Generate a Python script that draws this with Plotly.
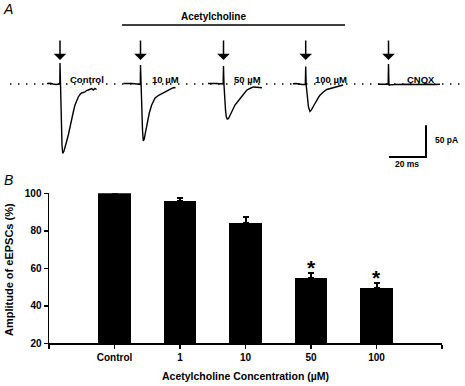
import plotly.graph_objects as go

# ---------------- Panel A data: eEPSC sweeps (time in ms from stimulus, current in pA) ----
sweep_labels = ["Control", "10 µM", "50 µM", "100 µM", "CNQX"]

control_t = [-7.0, -5.4, -3.8, -2.2, -0.1, 0, 0.27, 1.08, 1.46, 2.16, 2.7, 3.5, 4.5, 5.4, 6.3, 7.3, 8.1,
             9.0, 9.9, 10.8, 11.7, 13.5, 14.3, 15.3, 16.2, 17.1, 18.0, 18.9, 19.8]
control_i = [0.8, 1.1, 0, -0.8, 0, 33.2, 0, -96.4, -109.5, -105.8, -101.1, -91.6, -80.6, -66.4, -53.7,
             -42.7, -33.2, -25.3, -20.5, -16.6, -14.2, -12.6, -10.3, -9.5, -7.9, -7.1, -9.5, -7.1, -8.7]

ach10_t = [-9.2, -7.3, -5.1, -3.0, -1.6, -0.5, -0.1, 0, 0.27, 1.08, 1.5, 2.05, 2.4, 3.35, 4.05, 4.75,
           6.05, 7.0, 7.8, 9.6, 11.5, 13.2, 15.0, 16.9, 18.1, 18.9]
ach10_i = [0.8, 1.1, 0.8, 0.3, -0.8, -1.6, -0.8, 30, -1.6, -72.7, -90, -86.9, -80.6, -66.4, -55.3, -45.8,
           -33.2, -26.9, -22.6, -18.2, -15, -12.2, -9.5, -6.8, -5.5, -6.0]

ach50_t = [-8.4, -6.2, -4.1, -1.9, -0.2, 0, 0.27, 1.08, 1.5, 2.05, 2.7, 3.5, 4.4, 5.3, 6.2, 7.1, 8.1,
           8.9, 10.7, 12.5, 14.3, 16.1, 17.9, 19.7, 20.8]
ach50_i = [0.8, 1.1, 0.8, 0.3, 0, 28.4, -1.6, -41, -52, -55.3, -54.5, -49.8, -43.4, -37.9, -33.2, -30,
           -26.1, -22.6, -15, -9.8, -7.1, -4.7, -5.2, -5.8, -6.0]

ach100_t = [-6.9, -5.2, -3.6, -2.0, -0.2, 0, 0.27, 0.97, 1.5, 2.3, 3.1, 4.1, 5.0, 5.9, 6.9, 7.7, 9.5,
            11.4, 13.1, 14.9, 16.8, 18.5, 20.2]
ach100_i = [0.3, 0.8, 0, -0.8, -0.5, 27.6, -1.6, -25.3, -36.3, -43.4, -41, -35.5, -30, -25.3, -21,
            -17.9, -12.6, -8.7, -7.1, -5.5, -4.3, -2.8, -1.6]

cnqx_t = [-5.7, -3.5, -1.4, -0.2, 0, 0.27, 0.8, 3.5, 6.2, 8.9, 11.6, 14.3, 17.0, 19.7, 22.4, 25.1, 27.8]
cnqx_i = [-0.5, 0, -0.5, -0.5, 31.6, -2.4, -1.3, -0.8, -0.5, -0.9, -0.5, -0.8, -0.5, -0.8, -0.5, -0.8, -0.5]

scale_ms = 20
scale_pa = 50

# ---------------- Panel B data ----------------
categories = ["Control", "1", "10", "50", "100"]
amplitude = [100, 95.9, 84.0, 55.0, 49.3]
sem = [0, 1.8, 3.2, 2.3, 2.7]
significant = [False, False, False, True, True]

# ---------------- layout helpers ----------------
W, H = 465, 386
PX_PER_MS = 1.85
PX_PER_PA = 0.633
BASE_PX = 84          # baseline pixel row in panel A
PANEL_A_BOTTOM = 170  # px


def py(p):  # pixel row -> paper y
    return 1 - p / H


sweeps = [(control_t, control_i), (ach10_t, ach10_i), (ach50_t, ach50_i),
          (ach100_t, ach100_i), (cnqx_t, cnqx_i)]
stim_px = [60, 140.5, 223.5, 305.7, 388.5]
sweep_offsets = [p / PX_PER_MS for p in stim_px]
label_left_px = [68, 150, 232, 313, 405]

FONT = "Liberation Sans, Arial, Helvetica, sans-serif"

fig = go.Figure()

for (t, i), off in zip(sweeps, sweep_offsets):
    fig.add_trace(go.Scatter(x=[v + off for v in t], y=i, mode="lines",
                             line=dict(color="black", width=1.4),
                             xaxis="x2", yaxis="y2", showlegend=False, hoverinfo="skip"))

# scale bar (20 ms, 50 pA)
corner_x = 426 / PX_PER_MS
corner_y = (BASE_PX - 157) / PX_PER_PA
fig.add_trace(go.Scatter(x=[corner_x - scale_ms, corner_x, corner_x],
                         y=[corner_y, corner_y, corner_y + scale_pa],
                         mode="lines", line=dict(color="black", width=2),
                         xaxis="x2", yaxis="y2", showlegend=False, hoverinfo="skip"))

# bars
fig.add_trace(go.Bar(x=list(range(len(categories))), y=amplitude, width=0.5,
                     marker=dict(color="black", line=dict(width=0)),
                     error_y=dict(type="data", symmetric=False, array=sem,
                                  arrayminus=[0] * len(sem), color="black",
                                  thickness=2, width=3),
                     showlegend=False, hoverinfo="skip"))

annotations = []
shapes = []

# arrows at stimulus times
arrow_tip_pa = (BASE_PX - 60) / PX_PER_PA
for off in sweep_offsets:
    annotations.append(dict(x=off, y=arrow_tip_pa, xref="x2", yref="y2", ax=0, ay=-21,
                            showarrow=True, arrowhead=1, arrowsize=1.4, arrowwidth=1.5,
                            arrowcolor="black", text=""))

# sweep labels
for lab, lx in zip(sweep_labels, label_left_px):
    annotations.append(dict(x=lx / W, y=py(79), xref="paper", yref="paper", text=lab,
                            showarrow=False, xanchor="left", yanchor="middle",
                            font=dict(family=FONT, size=9.5, color="black", weight="bold")))

annotations += [
    dict(x=213 / W, y=py(16), xref="paper", yref="paper", text="Acetylcholine", showarrow=False,
         xanchor="center", yanchor="middle",
         font=dict(family=FONT, size=10, color="black", weight="bold")),
    dict(x=433 / W, y=py(140), xref="paper", yref="paper", text="50 pA", showarrow=False,
         xanchor="left", yanchor="middle",
         font=dict(family=FONT, size=8.5, color="black", weight="bold")),
    dict(x=407 / W, y=py(164.5), xref="paper", yref="paper", text="20 ms", showarrow=False,
         xanchor="center", yanchor="middle",
         font=dict(family=FONT, size=8.5, color="black", weight="bold")),
    dict(x=8 / W, y=py(9), xref="paper", yref="paper", text="<i>A</i>", showarrow=False,
         xanchor="center", yanchor="middle", font=dict(family=FONT, size=14, color="black")),
    dict(x=8 / W, y=py(180), xref="paper", yref="paper", text="<i>B</i>", showarrow=False,
         xanchor="center", yanchor="middle", font=dict(family=FONT, size=14, color="black")),
    dict(x=9 / W, y=py(270), xref="paper", yref="paper", text="Amplitude of eEPSCs (%)",
         showarrow=False, textangle=-90, xanchor="center", yanchor="middle",
         font=dict(family=FONT, size=11, color="black", weight="bold")),
]

# significance asterisks
for k, sig in enumerate(significant):
    if sig:
        annotations.append(dict(x=k, y=amplitude[k] + sem[k], xref="x", yref="y", text="*",
                                showarrow=False, xanchor="center", yanchor="middle", yshift=6,
                                font=dict(family=FONT, size=21, color="black", weight="bold")))

# dotted baseline and acetylcholine bar
shapes.append(dict(type="line", xref="paper", yref="y2", x0=10 / W, x1=463 / W, y0=0, y1=0,
                   line=dict(color="black", width=1.5, dash="1.5px,6.5px"), layer="below"))
shapes.append(dict(type="line", xref="paper", yref="paper", x0=122 / W, x1=345 / W,
                   y0=py(25), y1=py(25), line=dict(color="black", width=1.7)))

tickfont = dict(family=FONT, size=10, color="black", weight="bold")

fig.update_layout(
    width=W, height=H,
    margin=dict(l=0, r=0, t=0, b=0),
    paper_bgcolor="white", plot_bgcolor="white",
    showlegend=False,
    annotations=annotations, shapes=shapes,
    xaxis=dict(domain=[49 / W, 442 / W], range=[-1, 5],
               tickvals=list(range(-1, len(categories) + 1)),
               ticktext=[""] + categories + [""],
               ticks="outside", ticklen=4, tickwidth=1.5, tickcolor="black",
               showline=True, linewidth=1.5, linecolor="black",
               showgrid=False, zeroline=False, tickfont=tickfont, automargin=False,
               title=dict(text="Acetylcholine Concentration (µM)", standoff=11,
                          font=dict(family=FONT, size=10.5, color="black", weight="bold")),
               anchor="y"),
    yaxis=dict(domain=[py(343.3), py(193.3)], range=[20, 100],
               tickvals=[20, 40, 60, 80, 100],
               ticks="outside", ticklen=4, tickwidth=1.5, tickcolor="black",
               showline=True, linewidth=1.5, linecolor="black",
               showgrid=False, zeroline=False, tickfont=tickfont, automargin=False,
               anchor="x"),
    xaxis2=dict(domain=[0, 1], range=[0, W / PX_PER_MS], visible=False, anchor="y2"),
    yaxis2=dict(domain=[py(PANEL_A_BOTTOM), 1],
                range=[(BASE_PX - PANEL_A_BOTTOM) / PX_PER_PA, BASE_PX / PX_PER_PA],
                visible=False, anchor="x2"),
    bargap=0,
)

fig.write_html("out.html", config={"displayModeBar": False, "staticPlot": True},
               post_script="document.body.style.margin='0px';document.body.style.overflow='hidden';")
